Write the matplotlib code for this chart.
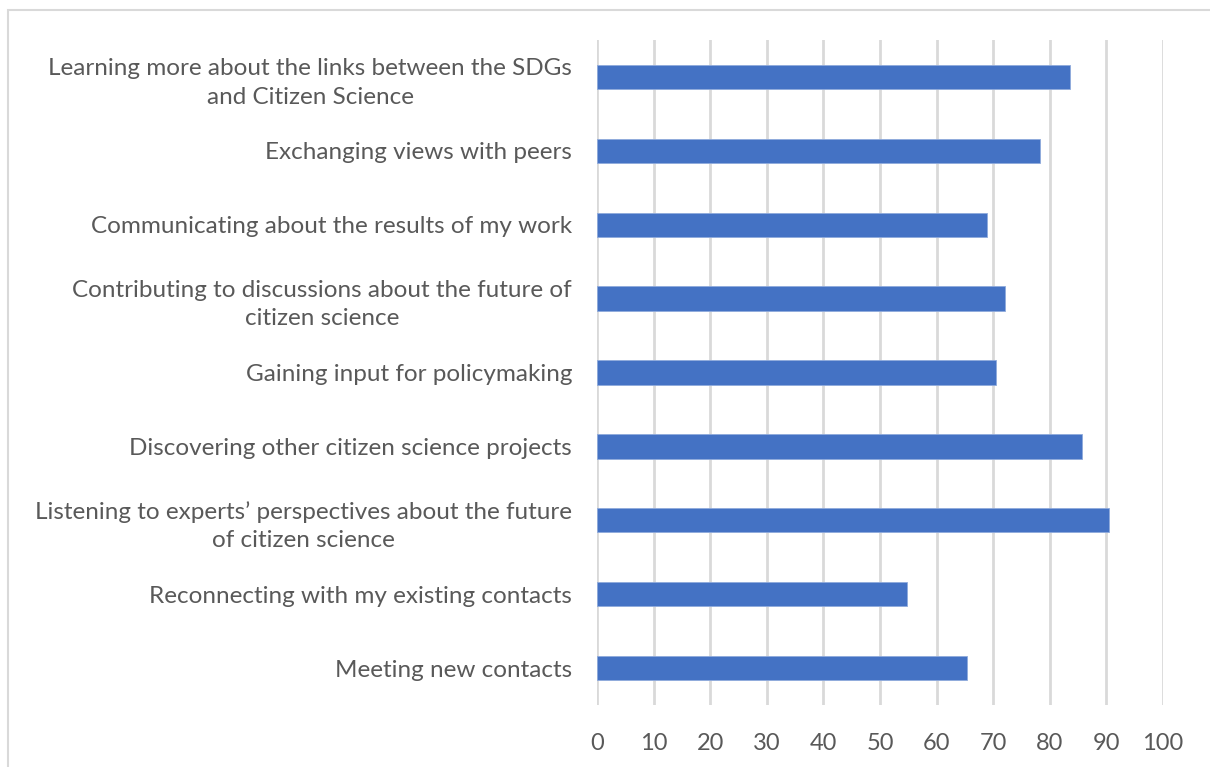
import matplotlib.pyplot as plt
from matplotlib.patches import Rectangle

# Survey categories, listed bottom to top as they appear on the chart
categories = [
    "Meeting new contacts",
    "Reconnecting with my existing contacts",
    "Listening to experts\u2019 perspectives about the future\nof citizen science",
    "Discovering other citizen science projects",
    "Gaining input for policymaking",
    "Contributing to discussions about the future of\ncitizen science",
    "Communicating about the results of my work",
    "Exchanging views with peers",
    "Learning more about the links between the SDGs\nand Citizen Science",
]
values = [65.3, 54.8, 90.4, 85.7, 70.5, 72.0, 68.9, 78.3, 83.6]
x_ticks = list(range(0, 101, 10))

plt.rcParams["font.family"] = ["Lato", "DejaVu Sans"]

fig = plt.figure(figsize=(12.1, 7.67), dpi=100)
ax = fig.add_axes([597 / 1210, 1 - 705 / 767, 566 / 1210, 665 / 767])

# Outer chart border
fig.patches.append(
    Rectangle((8 / 1210, -0.05), 1.1, 1 - 10 / 767 + 0.05, transform=fig.transFigure,
              fill=False, edgecolor="#d9d9d9", linewidth=1.5)
)

ypos = list(range(len(categories)))
ax.barh(ypos, values, height=0.33, color="#4472C4", edgecolor="#8faadc", linewidth=0.6, zorder=3)

ax.set_xlim(0, 100)
ax.set_ylim(-0.5, len(categories) - 0.5)
ax.set_xticks(x_ticks)
ax.set_yticks(ypos)
ax.set_yticklabels(categories)
for lab in ax.get_yticklabels():
    lab.set_multialignment("center")
    lab.set_linespacing(1.45)

ax.grid(axis="x", color="#d9d9d9", linewidth=2, zorder=0)
ax.tick_params(axis="y", length=0, pad=18, labelsize=17.5, labelcolor="#595959")
ax.tick_params(axis="x", length=0, pad=20, labelsize=17, labelcolor="#595959")
for s in ax.spines.values():
    s.set_visible(False)

plt.savefig("out.png", dpi=100)
